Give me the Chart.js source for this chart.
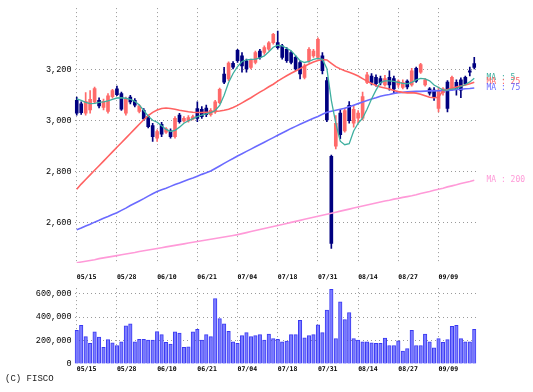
<!DOCTYPE html>
<html>
<head>
<meta charset="utf-8">
<script src="https://cdn.jsdelivr.net/npm/chart.js@4.4.1/dist/chart.umd.min.js"></script>
<style>
  body { margin: 0; background: #fff; }
  #wrap { position: relative; width: 533px; height: 392px; }
  canvas { position: absolute; left: 0; }
  #price { top: 0; }
  #vol { top: 280px; }
  #copy { position: absolute; left: 5px; top: 375px; font: 9px "Liberation Mono", monospace; line-height: 9px; color: #222; }
</style>
</head>
<body>
<div id="wrap">
  <canvas id="price" width="533" height="285"></canvas>
  <canvas id="vol" width="533" height="112"></canvas>
  <div id="copy">(C) FISCO</div>
</div>
<script>
// trading days shown, 2024-05-15 .. 2024-09-20
var dates = [
  '05/15','05/16','05/17','05/20','05/21','05/22','05/23','05/24','05/27','05/28',
  '05/29','05/30','05/31','06/03','06/04','06/05','06/06','06/07','06/10','06/11',
  '06/12','06/13','06/14','06/17','06/18','06/19','06/20','06/21','06/24','06/25',
  '06/26','06/27','06/28','07/01','07/02','07/03','07/04','07/05','07/08','07/09',
  '07/10','07/11','07/12','07/16','07/17','07/18','07/19','07/22','07/23','07/24',
  '07/25','07/26','07/29','07/30','07/31','08/01','08/02','08/05','08/06','08/07',
  '08/08','08/09','08/13','08/14','08/15','08/16','08/19','08/20','08/21','08/22',
  '08/23','08/26','08/27','08/28','08/29','08/30','09/02','09/03','09/04','09/05',
  '09/06','09/09','09/10','09/11','09/12','09/13','09/17','09/18','09/19','09/20'
];
var tickDays = ['05/15','05/28','06/10','06/21','07/04','07/18','07/31','08/14','08/27','09/09'];
var priceTicks = [2600, 2800, 3000, 3200];
var volTicks = [0, 200000, 400000, 600000];

var opens  = [3080,3066,3030,3042,3074,3080,3052,3036,3094,3125, 3106,3030,3093,3080,3036,3041,3016,2981,2932,2986,
              2955,2960,2938,3022,2999,2999,3007,3048,3045,3050, 3024,3035,3071,3183,3164,3225,3276,3254,3235,3209,
              3228,3273,3267,3280,3306,3306,3293,3280,3267,3248, 3228,3170,3235,3254,3248,3254,3157,2861,2900,3030,
              2960,3060,2990,3010,3010,3150,3175,3170,3165,3140, 3170,3165,3140,3130,3155,3140,3205,3190,3140,3125,
              3120,3048,3110,3151,3125,3150,3160,3170,3195,3224];
var highs  = [3093,3074,3110,3118,3132,3090,3085,3106,3123,3136, 3112,3093,3099,3087,3063,3048,3022,2990,2964,2994,
              2973,2968,3016,3029,3016,3020,3022,3074,3055,3061, 3048,3080,3128,3209,3231,3232,3280,3267,3241,3241,
              3273,3280,3293,3310,3342,3351,3299,3286,3273,3254, 3235,3222,3286,3280,3325,3267,3170,2866,3020,3045,
              3050,3075,3060,3040,3112,3190,3185,3180,3175,3178, 3195,3175,3160,3160,3160,3205,3210,3225,3165,3130,
              3130,3132,3130,3157,3175,3160,3168,3175,3210,3248];
var lows   = [3022,3025,3022,3030,3067,3050,3042,3030,3088,3098, 3040,3022,3066,3054,3031,3000,2972,2919,2919,2938,
              2950,2932,2932,2990,2994,2994,3003,2996,3009,3016, 3018,3029,3067,3145,3157,3203,3228,3190,3190,3203,
              3222,3241,3260,3275,3300,3280,3241,3228,3222,3196, 3164,3164,3228,3248,3241,3183,2996,2500,2890,2930,
              2955,2990,2975,2990,3003,3145,3140,3135,3140,3135, 3120,3110,3130,3125,3125,3135,3150,3185,3135,3100,
              3080,3035,3100,3035,3120,3100,3090,3140,3175,3203];
var closes = [3030,3032,3076,3084,3126,3058,3076,3098,3118,3102, 3045,3087,3074,3061,3058,3007,2977,2938,2958,2947,
              2968,2938,3009,2996,3009,3012,3016,3009,3016,3024, 3041,3074,3123,3151,3226,3210,3235,3215,3203,3239,
              3267,3248,3286,3305,3338,3286,3248,3235,3228,3203, 3183,3215,3280,3273,3319,3196,3003,2520,2990,2945,
              3040,3000,3045,3030,3095,3180,3150,3145,3148,3165, 3140,3125,3155,3150,3132,3195,3155,3220,3160,3108,
              3090,3119,3125,3048,3170,3125,3120,3145,3190,3209];

var ma5   = [3086,3080,3072,3067,3068,3072,3074,3078,3084,3089, 3090,3088,3084,3076,3062,3040,3018,3002,2994,2980,
             2966,2958,2962,2975,2990,3000,3008,3016,3022,3027, 3032,3040,3060,3100,3150,3185,3212,3232,3238,3240,
             3241,3246,3254,3270,3288,3296,3293,3284,3274,3255, 3235,3228,3232,3240,3244,3240,3205,3080,2990,2920,
             2906,2910,2960,2990,3010,3045,3085,3120,3150,3156, 3156,3154,3150,3146,3144,3150,3160,3166,3164,3156,
             3140,3130,3120,3120,3124,3126,3134,3142,3152,3166];
var ma25  = [2732,2752,2770,2788,2806,2824,2842,2860,2878,2896, 2914,2932,2950,2968,2986,3004,3020,3033,3042,3048,
             3050,3048,3045,3041,3038,3035,3033,3032,3032,3033, 3034,3036,3038,3041,3045,3052,3060,3070,3080,3090,
             3101,3112,3122,3133,3143,3155,3166,3176,3186,3195, 3204,3213,3222,3230,3236,3240,3238,3225,3212,3203,
             3196,3190,3183,3175,3165,3155,3146,3138,3132,3128, 3124,3118,3114,3111,3109,3110,3108,3104,3098,3092,
             3090,3092,3118,3122,3127,3132,3136,3140,3145,3151];
var ma75  = [2573,2580,2588,2595,2603,2610,2618,2625,2633,2640, 2649,2658,2668,2677,2686,2695,2705,2714,2723,2730,
             2736,2743,2750,2756,2763,2770,2776,2783,2790,2796, 2803,2813,2823,2833,2843,2852,2862,2871,2880,2889,
             2898,2907,2916,2925,2934,2943,2952,2961,2970,2978, 2986,2994,3002,3010,3017,3025,3033,3037,3041,3045,
             3049,3055,3061,3067,3073,3079,3085,3090,3096,3100, 3103,3107,3110,3111,3113,3114,3115,3115,3116,3117,
             3117,3118,3118,3119,3120,3122,3123,3125,3126,3128];
var ma200 = [2444,2447,2450,2453,2456,2460,2463,2466,2469,2472, 2475,2478,2481,2484,2488,2491,2494,2497,2500,2503,
             2506,2509,2512,2515,2518,2521,2524,2527,2530,2533, 2536,2539,2542,2545,2548,2551,2554,2558,2562,2566,
             2570,2574,2578,2582,2586,2590,2594,2598,2602,2606, 2610,2614,2618,2622,2626,2630,2634,2638,2642,2646,
             2650,2654,2658,2662,2666,2670,2674,2678,2682,2686, 2689,2693,2696,2700,2703,2706,2710,2715,2719,2723,
             2728,2732,2736,2741,2745,2749,2754,2758,2762,2767];

var volume = [287000,329000,234000,176000,274000,229000,142000,208000,181000,158000,
              189000,326000,342000,189000,210000,210000,203000,203000,276000,250000,
              184000,170000,274000,263000,142000,147000,274000,295000,203000,250000,
              234000,558000,387000,342000,279000,189000,176000,242000,268000,234000,
              242000,250000,203000,255000,216000,210000,189000,195000,250000,250000,
              373000,224000,242000,250000,334000,268000,460000,637000,216000,531000,
              379000,439000,216000,203000,189000,189000,181000,176000,176000,221000,
              158000,158000,197000,110000,131000,287000,158000,158000,255000,189000,
              137000,216000,184000,208000,321000,329000,216000,189000,189000,295000];

var UP = '#ff6a6a', DOWN = '#000080';
var GRID = '#9a9a9a';
var tickFont = { family: 'DejaVu Sans Mono', size: 6.5, weight: 'bold' };
var axisFont = { family: 'Liberation Mono', size: 8.5 };

var candleColors = closes.map(function (c, i) { return c >= opens[i] ? UP : DOWN; });
var wicks = lows.map(function (l, i) { return [l, highs[i]]; });
var bodies = opens.map(function (o, i) { return [o, closes[i]]; });

function dateAxis(pad) {
    return {
        offset: true,
        afterBuildTicks: function (s) {
            s.ticks = tickDays.map(function (d) { return { value: dates.indexOf(d) }; });
        },
        afterFit: function (s) { s.height = s.chart.height - (s.chart.id === 0 ? 263 : 84); },
        grid: { offset: false, color: GRID, drawTicks: false },
        border: { display: false, dash: [1, 3] },
        ticks: {
            autoSkip: false, maxRotation: 0, align: 'start', padding: pad,
            font: tickFont, color: '#000',
            callback: function (v) { return dates[v]; }
        }
    };
}

// MA names next to the last point of each line
var maLabels = {
    id: 'maLabels',
    afterDatasetsDraw: function (chart) {
        var ctx = chart.ctx;
        ctx.save();
        ctx.font = '8px "DejaVu Sans Mono"';
        ctx.textBaseline = 'middle';
        ctx.textAlign = 'left';
        chart.data.datasets.forEach(function (ds, i) {
            if (!ds.maName) return;
            var pts = chart.getDatasetMeta(i).data;
            var p = pts[pts.length - 1];
            ctx.fillStyle = ds.borderColor;
            ctx.fillText('MA : ' + ds.maName, chart.chartArea.right + 10, p.y);
        });
        ctx.restore();
    }
};

function maLine(name, values, color, width) {
    return { type: 'line', maName: name, data: values, borderColor: color, borderWidth: width,
             pointRadius: 0, tension: 0, order: 0 };
}

new Chart(document.getElementById('price'), {
    type: 'bar',
    data: {
        labels: dates,
        datasets: [
            maLine('5', ma5, '#3eaf9f', 1.3),
            maLine('25', ma25, '#ff6262', 1.6),
            maLine('75', ma75, '#6a6aff', 1.6),
            maLine('200', ma200, '#ff9ad8', 1.6),
            { data: bodies, backgroundColor: candleColors, barThickness: 3, grouped: false, order: 1 },
            { data: wicks, backgroundColor: candleColors, barThickness: 1, grouped: false, order: 2 }
        ]
    },
    options: {
        responsive: false, animation: false,
        layout: { padding: { top: 5, right: 56.5, left: 0, bottom: 0 } },
        plugins: { legend: { display: false }, tooltip: { enabled: false } },
        scales: {
            x: dateAxis(10),
            y: {
                min: 2443, max: 3441,
                afterBuildTicks: function (s) { s.ticks = priceTicks.map(function (v) { return { value: v }; }); },
                afterFit: function (s) { s.width = 74.5; },
                grid: { color: GRID, drawTicks: false },
                border: { display: false, dash: [1, 3] },
                ticks: { padding: 3, font: axisFont, color: '#000',
                         callback: function (v) { return v.toLocaleString('en-US'); } }
            }
        }
    },
    plugins: [maLabels]
});

new Chart(document.getElementById('vol'), {
    type: 'bar',
    data: {
        labels: dates,
        datasets: [{ data: volume, backgroundColor: '#7c7cff', borderColor: '#3a3af2',
                     borderWidth: 1, barThickness: 3.5 }]
    },
    options: {
        responsive: false, animation: false,
        layout: { padding: { top: 2, right: 56.5, left: 0, bottom: 0 } },
        plugins: { legend: { display: false }, tooltip: { enabled: false } },
        scales: {
            x: dateAxis(1),
            y: {
                min: 0, max: 647000,
                afterBuildTicks: function (s) { s.ticks = volTicks.map(function (v) { return { value: v }; }); },
                afterFit: function (s) { s.width = 74.5; },
                grid: { drawTicks: false,
                        color: function (c) { return c.tick && c.tick.value === 0 ? 'rgba(0,0,0,0)' : GRID; } },
                border: { display: false, dash: [1, 3] },
                ticks: { padding: 3, font: axisFont, color: '#000',
                         callback: function (v) { return v.toLocaleString('en-US'); } }
            }
        }
    }
});
</script>
</body>
</html>
